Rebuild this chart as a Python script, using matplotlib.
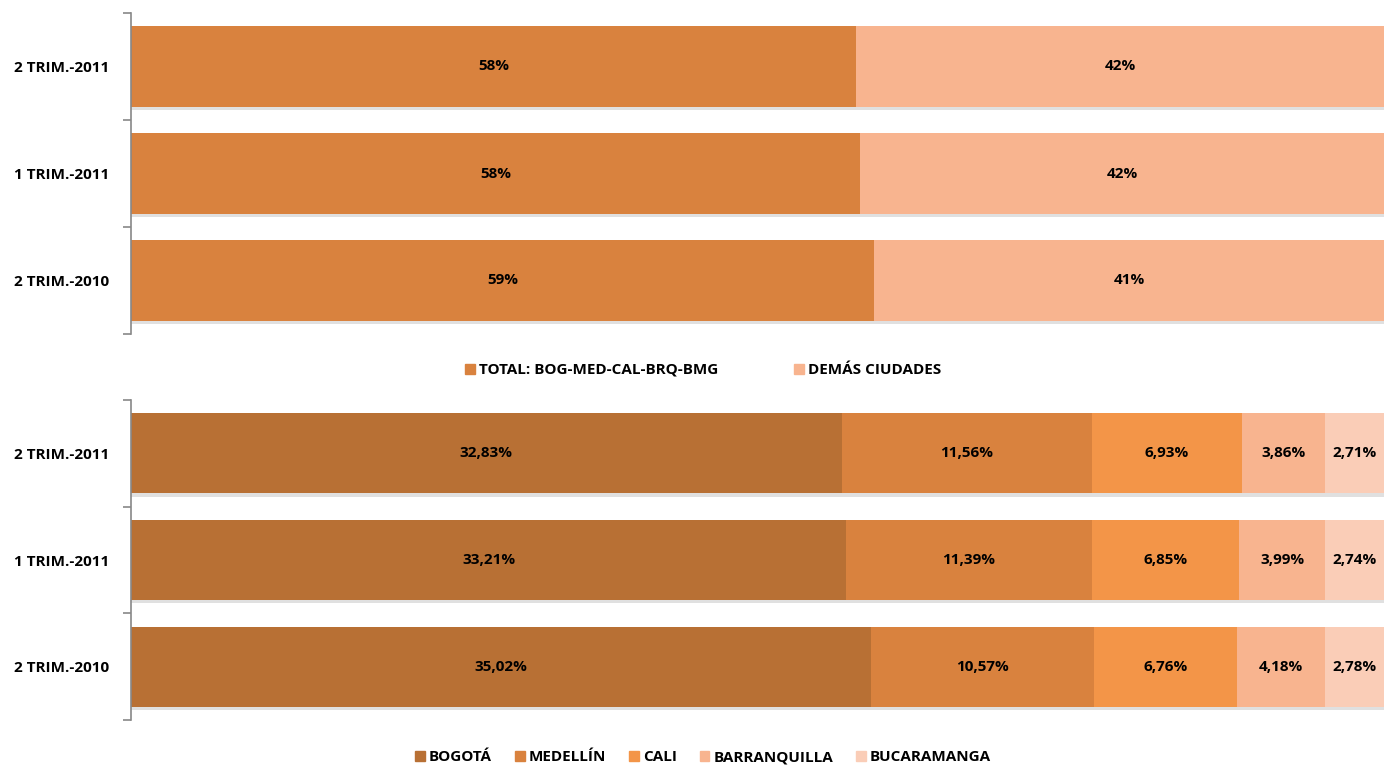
import matplotlib.pyplot as plt
import matplotlib.patheffects as pe
from matplotlib.patches import Patch
import numpy as np

periods = ['2 TRIM.-2010', '1 TRIM.-2011', '2 TRIM.-2011']

# top panel: share of the five main cities vs the rest
total_5 = [59.31, 58.18, 57.89]
demas = [40.69, 41.82, 42.11]
top_labels = ['TOTAL: BOG-MED-CAL-BRQ-BMG', 'DEMÁS CIUDADES']

# bottom panel: each city
cities = ['BOGOTÁ', 'MEDELLÍN', 'CALI', 'BARRANQUILLA', 'BUCARAMANGA']
bogota = [35.02, 33.21, 32.83]
medellin = [10.57, 11.39, 11.56]
cali = [6.76, 6.85, 6.93]
barranquilla = [4.18, 3.99, 3.86]
bucaramanga = [2.78, 2.74, 2.71]

top_colors = ['#D9823E', '#F8B48F']
city_colors = ['#B87034', '#D9823E', '#F39548', '#F8B48F', '#FACDB7']

plt.rcParams['font.family'] = ['Open Sans', 'DejaVu Sans']
plt.rcParams['font.weight'] = 'bold'
FS = 11

fig = plt.figure(figsize=(13.84, 7.68), dpi=100)
ax1 = fig.add_axes([131 / 1384, 1 - 334 / 768, 1 - 131 / 1384, 321 / 768])
ax2 = fig.add_axes([131 / 1384, 1 - 720 / 768, 1 - 131 / 1384, 320 / 768])

shadow = [pe.SimplePatchShadow(offset=(0, -2.5), shadow_rgbFace='#999999', alpha=0.3), pe.Normal()]


def stacked(ax, series, colors, fmt):
    y = np.arange(len(periods))
    data = np.array(series, dtype=float)
    totals = data.sum(axis=0)
    left = np.zeros(len(periods))
    for vals, col in zip(data, colors):
        pct = vals / totals * 100
        bars = ax.barh(y, pct, left=left, height=0.75, color=col)
        for b in bars:
            b.set_path_effects(shadow)
        for yi, l, w, v in zip(y, left, pct, vals):
            ax.text(l + w / 2, yi, fmt(v), ha='center', va='center',
                    fontsize=FS, fontweight='bold', color='black')
        left += pct
    ax.set_xlim(0, 100)
    ax.set_ylim(-0.5, len(periods) - 0.5)
    ax.set_xticks([])
    ax.set_yticks(np.arange(-0.5, len(periods)))
    ax.set_yticklabels([])
    ax.set_yticks(y, minor=True)
    ax.set_yticklabels(periods, minor=True, fontsize=FS, fontweight='bold')
    ax.tick_params(axis='y', which='major', length=6, color='#888888', width=1.2)
    ax.tick_params(axis='y', which='minor', length=0, pad=16)
    for s in ['top', 'right', 'bottom']:
        ax.spines[s].set_visible(False)
    ax.spines['left'].set_color('#888888')
    ax.spines['left'].set_linewidth(1.2)


stacked(ax1, [total_5, demas], top_colors, lambda v: f'{v:.0f}%')
stacked(ax2, [bogota, medellin, cali, barranquilla, bucaramanga],
        city_colors, lambda v: f'{v:.2f}%'.replace('.', ','))

leg_kw = dict(frameon=False, ncol=5, loc='center', handlelength=0.65,
              handleheight=0.65, handletextpad=0.25,
              prop={'weight': 'bold', 'size': FS})
fig.legend([Patch(color=c) for c in top_colors], top_labels,
           bbox_to_anchor=(703 / 1384, 1 - 370 / 768), columnspacing=5.0, **leg_kw)
fig.legend([Patch(color=c) for c in city_colors], cities,
           bbox_to_anchor=(703 / 1384, 1 - 757 / 768), columnspacing=1.5, **leg_kw)

fig.savefig('out.png', dpi=100)
